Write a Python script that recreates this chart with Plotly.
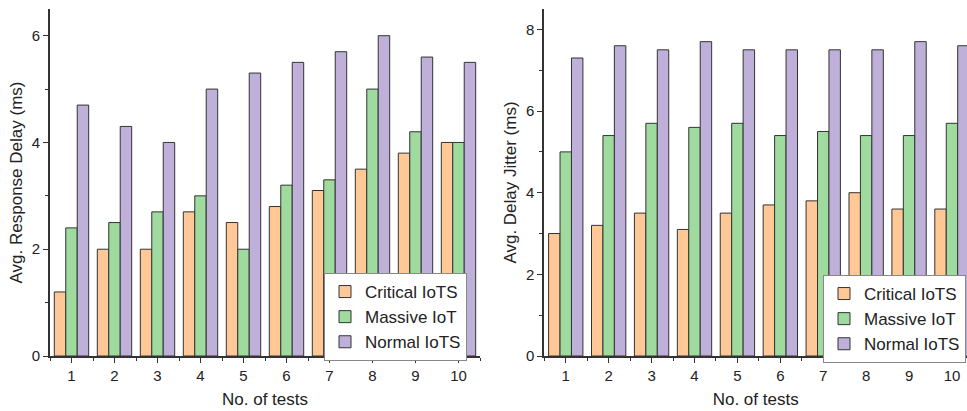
import plotly.graph_objects as go

tests = list(range(1, 11))
series_names = ["Critical IoTS", "Massive IoT", "Normal IoTS"]

delay_critical = [1.2, 2.0, 2.0, 2.7, 2.5, 2.8, 3.1, 3.5, 3.8, 4.0]
delay_massive = [2.4, 2.5, 2.7, 3.0, 2.0, 3.2, 3.3, 5.0, 4.2, 4.0]
delay_normal = [4.7, 4.3, 4.0, 5.0, 5.3, 5.5, 5.7, 6.0, 5.6, 5.5]

jitter_critical = [3.0, 3.2, 3.5, 3.1, 3.5, 3.7, 3.8, 4.0, 3.6, 3.6]
jitter_massive = [5.0, 5.4, 5.7, 5.6, 5.7, 5.4, 5.5, 5.4, 5.4, 5.7]
jitter_normal = [7.3, 7.6, 7.5, 7.7, 7.5, 7.5, 7.5, 7.5, 7.7, 7.6]

colors = ["#FFC896", "#9FDA9E", "#BFB0D9"]
FONT = "Liberation Sans, Arial, sans-serif"

fig = go.Figure()

for name, vals, col in zip(series_names, [delay_critical, delay_massive, delay_normal], colors):
    fig.add_trace(go.Bar(x=tests, y=vals, name=name, marker=dict(color=col, line=dict(color="#333333", width=1)),
                         xaxis="x", yaxis="y", legend="legend", offsetgroup=name))
for name, vals, col in zip(series_names, [jitter_critical, jitter_massive, jitter_normal], colors):
    fig.add_trace(go.Bar(x=tests, y=vals, name=name, marker=dict(color=col, line=dict(color="#333333", width=1)),
                         xaxis="x2", yaxis="y2", legend="legend2", offsetgroup=name))

W, H = 967, 411
x1d = [50 / W, 480 / W]
x2d = [544.3 / W, 1.0]
yd = [(H - 356) / H, (H - 9) / H]

axis_common = dict(showline=True, linecolor="#333333", linewidth=2, ticks="outside", ticklen=5,
                   tickcolor="#333333", tickwidth=1.2, showgrid=False, zeroline=False,
                   tickfont=dict(family=FONT, size=15, color="#222222"), automargin=False)

legend_common = dict(xanchor="right", yanchor="top", bgcolor="white",
                     bordercolor="#888888", borderwidth=1, font=dict(family=FONT, size=17, color="#222222"),
                     tracegroupgap=0, itemwidth=30)

fig.update_layout(
    width=W, height=H, margin=dict(l=0, r=0, t=0, b=0),
    plot_bgcolor="white", paper_bgcolor="white",
    barmode="group", bargap=0.2, bargroupgap=0.0,
    font=dict(family=FONT, color="#222222"),
    xaxis=dict(domain=x1d, anchor="y", range=[0.5, 10.5], tickmode="linear", tick0=1, dtick=1,
               minor=dict(dtick=0.5, tick0=0.5, ticks="outside", ticklen=3, tickcolor="#333333"),
               title=dict(text="No. of tests", font=dict(family=FONT, size=17), standoff=10), **axis_common),
    yaxis=dict(domain=yd, anchor="x", range=[0, 6.5], tickmode="linear", tick0=0, dtick=2,
               minor=dict(dtick=1, ticks="outside", ticklen=3, tickcolor="#333333"),
               title=dict(text="Avg. Response Delay (ms)", font=dict(family=FONT, size=17), standoff=5), **axis_common),
    xaxis2=dict(domain=x2d, anchor="y2", range=[0.5, 10.35], tickmode="linear", tick0=1, dtick=1,
                minor=dict(dtick=0.5, tick0=0.5, ticks="outside", ticklen=3, tickcolor="#333333"),
                title=dict(text="No. of tests", font=dict(family=FONT, size=17), standoff=10), **axis_common),
    yaxis2=dict(domain=yd, anchor="x2", range=[0, 8.5], tickmode="linear", tick0=0, dtick=2,
                minor=dict(dtick=1, ticks="outside", ticklen=3, tickcolor="#333333"),
                title=dict(text="Avg. Delay Jitter (ms)", font=dict(family=FONT, size=17), standoff=5), **axis_common),
    legend=dict(x=467 / W, y=(H - 273) / H, **legend_common),
    legend2=dict(x=966 / W, y=(H - 275) / H, **legend_common),
)

fig.write_html("out.html", config={"displayModeBar": False},
               post_script="document.body.style.margin='0';document.body.style.overflow='hidden';")
